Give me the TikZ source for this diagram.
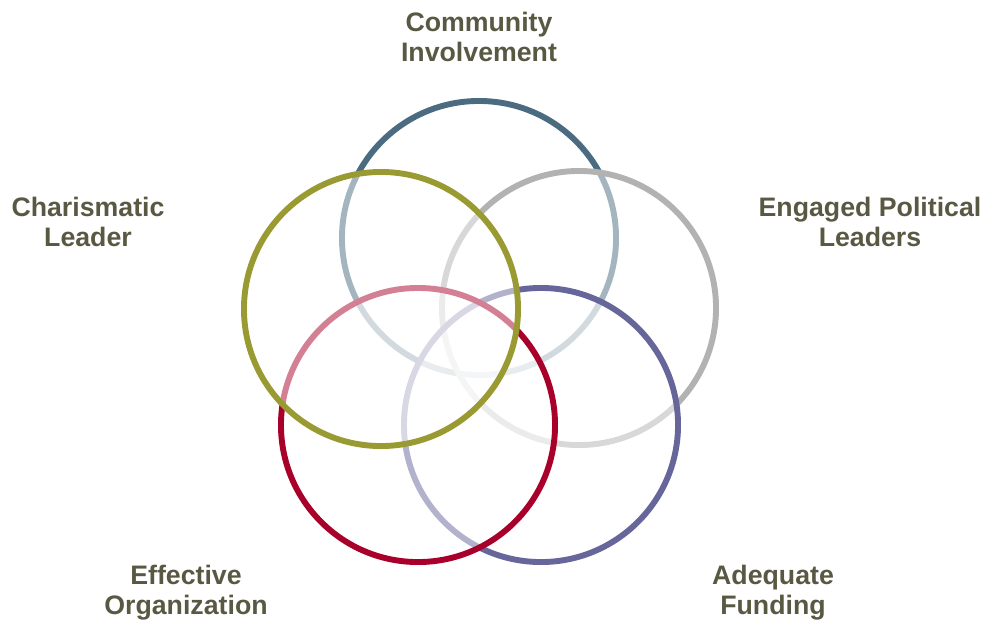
\documentclass[tikz,border=0pt]{standalone}
\usepackage{fontspec}
\setmainfont{Liberation Sans}
\usetikzlibrary{positioning}

\definecolor{commblue}{HTML}{4B6C80}
\definecolor{polgray}{HTML}{B2B2B2}
\definecolor{fundpurple}{HTML}{66669A}
\definecolor{orgred}{HTML}{A8002A}
\definecolor{leadolive}{HTML}{9A9A33}
\definecolor{textolive}{HTML}{595943}

\begin{document}
\begin{tikzpicture}[x=0.025cm, y=-0.025cm]
  % definition of the basic styles.
  \tikzstyle{ring}=[circle, inner sep=0pt, minimum size=6.85cm,
    line width=4.2pt, fill=white, fill opacity=0.5]
  \tikzstyle{venntext}=[align=center, text=textolive,
    font=\fontsize{19}{21.5}\selectfont\bfseries]

  % The page
  \useasboundingbox (0,0) rectangle (984,620);

  % The rings, later ones wash out the ones below
  \node[ring, draw=commblue]   (comm) at (479,238) {};
  \node[ring, draw=polgray]    (pol)  at (579,308) {};
  \node[ring, draw=fundpurple] (fund) at (541,425) {};
  \node[ring, draw=orgred]     (org)  at (418,425) {};
  \node[ring, draw=leadolive]  (lead) at (381,309) {};

  % The names
  \node[venntext] (commtext) at (479,37)  {Community\\Involvement};
  \node[venntext] (leadtext) at (88,222)  {Charismatic\\Leader};
  \node[venntext] (poltext)  at (870,222) {Engaged Political\\Leaders};
  \node[venntext] (orgtext)  at (186,593) {Effective\\Organization};
  \node[venntext] (fundtext) at (773,593) {Adequate\\Funding};
\end{tikzpicture}
\end{document}
